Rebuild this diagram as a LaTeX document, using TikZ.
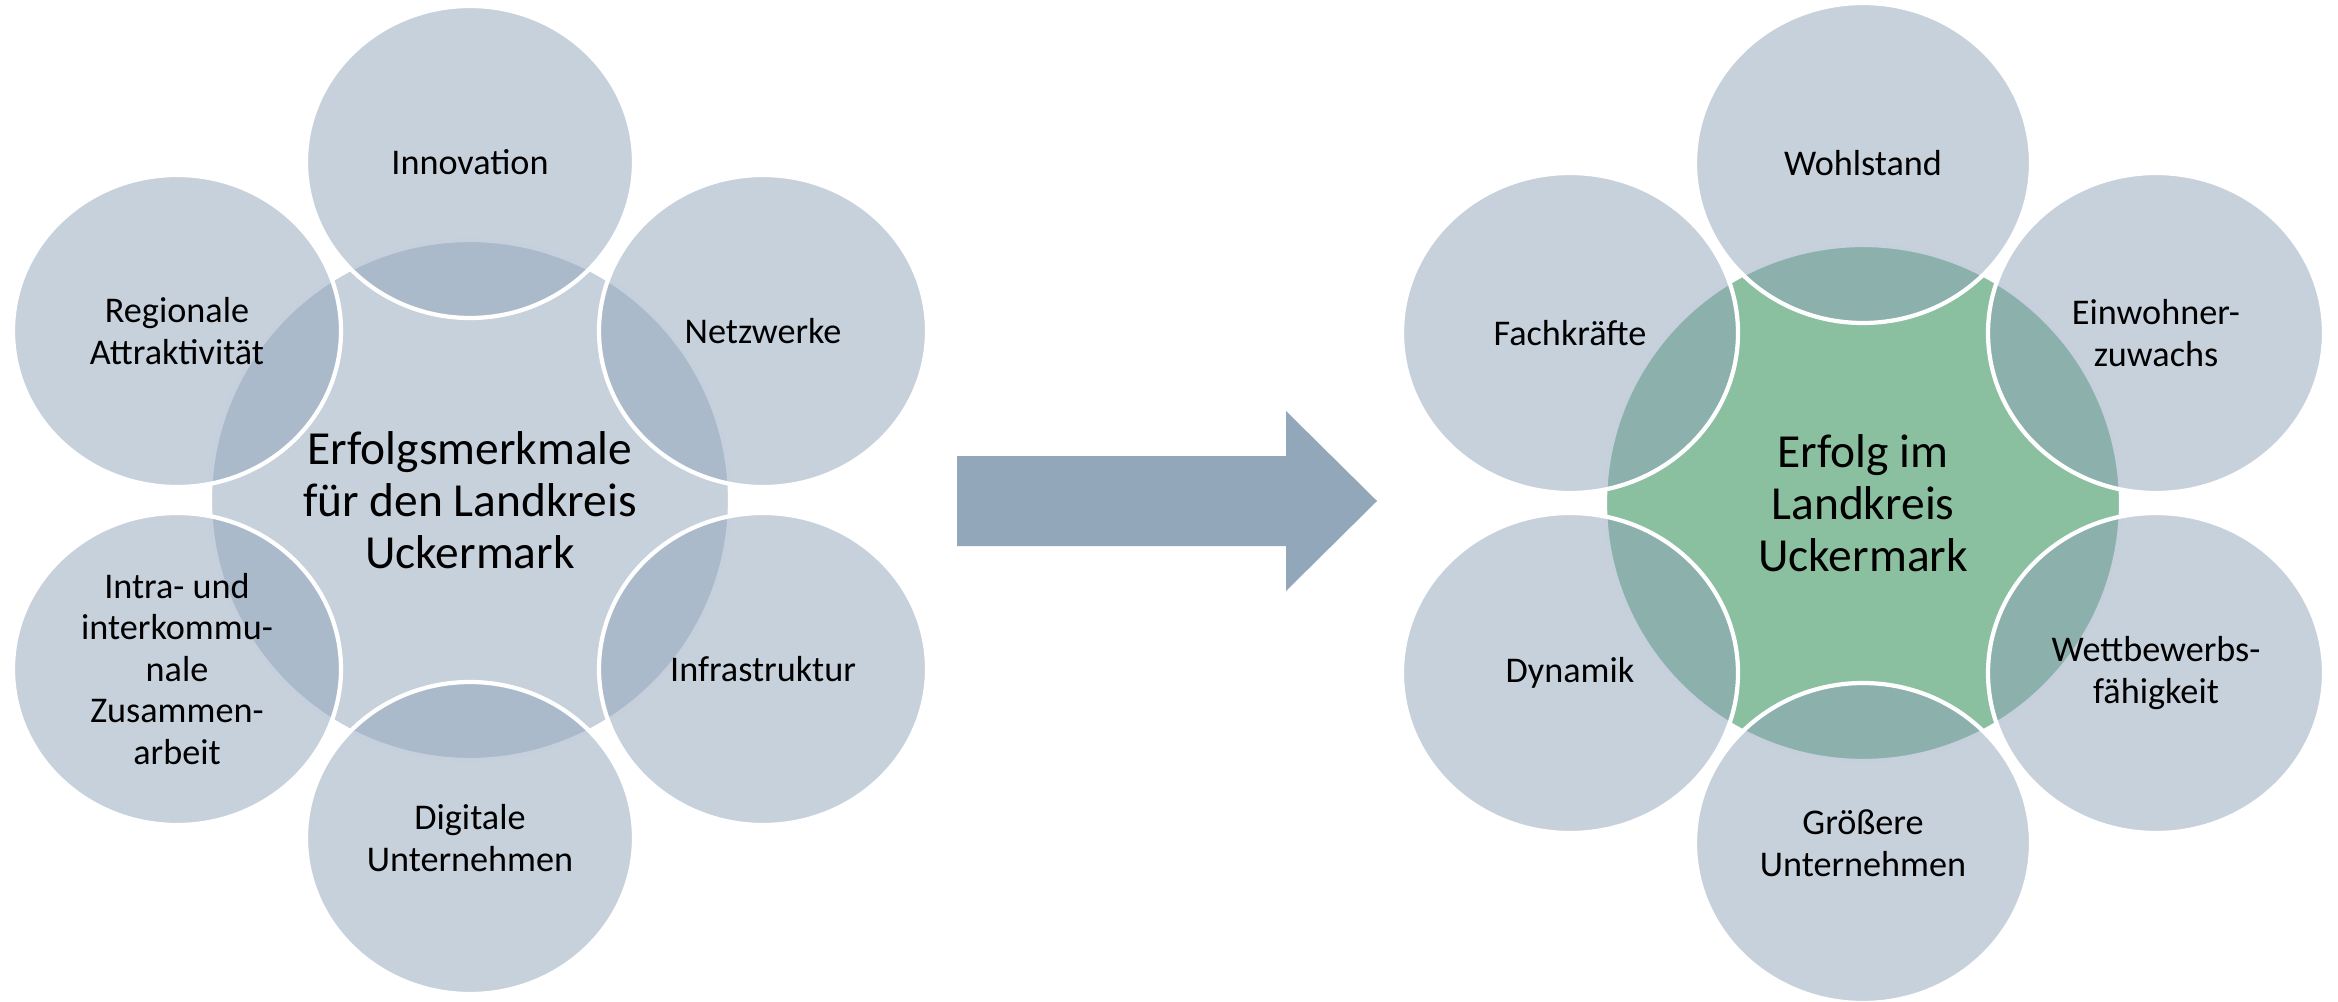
\documentclass[tikz,border=0pt]{standalone}
\usepackage{fontspec}
\setmainfont{Carlito}
\usetikzlibrary{shapes.geometric}

\definecolor{circleblue}{RGB}{143,163,186}
\definecolor{arrowblue}{RGB}{147,167,186}
\definecolor{hubgreen}{RGB}{138,192,160}

\begin{document}
\begin{tikzpicture}[
    petal/.style = {ellipse, draw = white, line width = 1.2pt, fill = circleblue,
      fill opacity = 0.5, text opacity = 1, inner sep = 0pt, align = center,
      font = \fontsize{10.3}{11.8}\selectfont},
    small petal/.style = {petal, minimum width = 3.28cm, minimum height = 3.12cm},
    large petal/.style = {petal, minimum width = 3.36cm, minimum height = 3.20cm},
    hub/.style = {circle, draw = white, line width = 1.2pt, inner sep = 0pt,
      align = center, font = \fontsize{13.5}{14.8}\selectfont}
  ]
    \useasboundingbox (0, 0) rectangle (23.38, 10.01);

    % left flower
    \node[hub, fill = circleblue, fill opacity = 0.5, text opacity = 1,
      minimum size = 5.2cm] (Merkmale) at (4.70, 5.01)
      {Erfolgsmerkmale\\für den Landkreis\\Uckermark};
    \node[small petal] (Innovation) at (4.70, 8.39) {Innovation};
    \node[small petal] (Netzwerke) at (7.63, 6.70) {Netzwerke};
    \node[small petal] (Infrastruktur) at (7.63, 3.32) {Infrastruktur};
    \node[small petal] (Digitale) at (4.70, 1.63) {Digitale\\Unternehmen};
    \node[small petal] (Zusammenarbeit) at (1.77, 3.32)
      {Intra- und\\interkommu-\\nale\\Zusammen-\\arbeit};
    \node[small petal] (Attraktivitaet) at (1.77, 6.70) {Regionale\\Attraktivität};

    % big arrow
    \fill[arrowblue] (9.57, 5.45) -- (12.86, 5.45) -- (12.86, 5.90) -- (13.77, 5.00)
      -- (12.86, 4.10) -- (12.86, 4.55) -- (9.57, 4.55) -- cycle;

    % right flower
    \node[hub, fill = hubgreen, minimum size = 5.16cm] (Erfolg) at (18.63, 4.98)
      {Erfolg im\\Landkreis\\Uckermark};
    \node[large petal] (Wohlstand) at (18.63, 8.38) {Wohlstand};
    \node[large petal] (Zuwachs) at (21.56, 6.68) {Einwohner-\\zuwachs};
    \node[large petal] (Wettbewerb) at (21.56, 3.28) {Wettbewerbs-\\fähigkeit};
    \node[large petal] (Groessere) at (18.63, 1.58) {Größere\\Unternehmen};
    \node[large petal] (Dynamik) at (15.70, 3.28) {Dynamik};
    \node[large petal] (Fachkraefte) at (15.70, 6.68) {Fachkräfte};
  \end{tikzpicture}
\end{document}
